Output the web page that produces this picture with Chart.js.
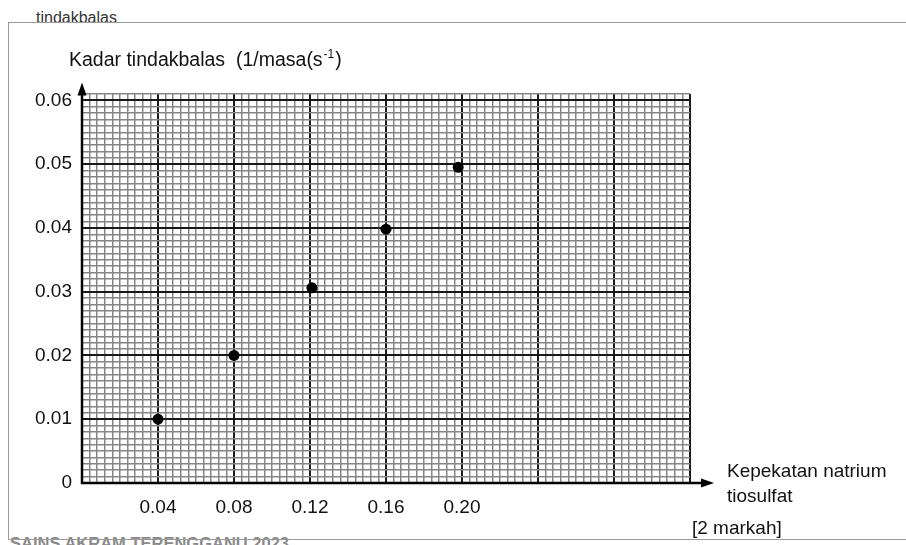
<!DOCTYPE html>
<html>
<head>
<meta charset="utf-8">
<script src="https://cdn.jsdelivr.net/npm/chart.js@4/dist/chart.umd.min.js"></script>
<style>
  html, body { margin: 0; padding: 0; background: #fff; }
  #wrap { position: relative; width: 906px; height: 545px; overflow: hidden; font-family: "Liberation Sans", Arial, sans-serif; }
  #frame { position: absolute; left: 8px; top: 22px; width: 910px; height: 516px; border-left: 1.5px solid #9a9a9a; border-top: 1.5px solid #9a9a9a; border-bottom: 1.5px solid #9a9a9a; }
  #head { position: absolute; left: 36px; top: 0; height: 22px; overflow: hidden; font-size: 16px; color: #333; line-height: 16px; padding-top: 10px; box-sizing: border-box; }
  #foot { position: absolute; left: 10px; top: 535px; font-size: 16.5px; font-weight: bold; color: #8a8a8a; line-height: 16px; white-space: nowrap; }
  canvas { position: absolute; left: 0; top: 0; }
</style>
</head>
<body>
<div id="wrap">
  <div id="head">tindakbalas</div>
  <div id="foot">SAINS AKRAM TERENGGANU 2023</div>
  <div id="frame"></div>
  <canvas id="graph" width="906" height="545"></canvas>
</div>
<script>
(function () {
    'use strict';

    var concentration = [0.04, 0.08, 0.121, 0.16, 0.198];
    var rate = [0.01, 0.02, 0.0306, 0.0398, 0.0495];

    // Tick labels on the major grid lines
    var xTickLabels = ['0.04', '0.08', '0.12', '0.16', '0.20'];
    var yTickLabels = ['0', '0.01', '0.02', '0.03', '0.04', '0.05', '0.06'];

    var yTitle = 'Kadar tindakbalas  (1/masa(s';
    var yTitleSup = '-1';
    var xTitle = ['Kepekatan natrium', 'tiosulfat'];
    var marks = '[2 markah]';

    var FONT = '"Liberation Sans", Arial, sans-serif';
    var xMinor = 0.004, yMinor = 0.001;

    function minorIndex(v, step) { return Math.round(v / step); }

    var points = concentration.map(function (c, i) { return { x: c, y: rate[i] }; });

    /* ─── axes, arrows and titles ─── */
    var decorations = {
        id: 'decorations',
        afterDraw: function (chart) {
            var ctx = chart.ctx;
            var xs = chart.scales.x, ys = chart.scales.y;
            var area = chart.chartArea;
            var x0 = xs.getPixelForValue(0), y0 = ys.getPixelForValue(0);
            var yTop = ys.getPixelForValue(0.06) - 18, xEnd = area.right + 24;

            ctx.save();
            ctx.strokeStyle = '#000';
            ctx.fillStyle = '#000';
            ctx.lineWidth = 2.5;
            ctx.beginPath();
            ctx.moveTo(x0, y0);
            ctx.lineTo(x0, yTop + 10);
            ctx.moveTo(x0 - 1.2, y0);
            ctx.lineTo(xEnd - 10, y0);
            ctx.stroke();

            // arrow heads
            ctx.beginPath();
            ctx.moveTo(x0, yTop);
            ctx.lineTo(x0 - 4.5, yTop + 13);
            ctx.lineTo(x0 + 4.5, yTop + 13);
            ctx.closePath();
            ctx.fill();
            ctx.beginPath();
            ctx.moveTo(xEnd, y0);
            ctx.lineTo(xEnd - 13, y0 - 4.5);
            ctx.lineTo(xEnd - 13, y0 + 4.5);
            ctx.closePath();
            ctx.fill();

            // titles
            ctx.fillStyle = '#111';
            ctx.textBaseline = 'alphabetic';
            ctx.textAlign = 'left';
            ctx.font = '19.5px ' + FONT;
            ctx.fillText(yTitle, 69, 66);
            var w = ctx.measureText(yTitle).width;
            ctx.font = '12px ' + FONT;
            ctx.fillText(yTitleSup, 69 + w + 1, 58);
            var w2 = ctx.measureText(yTitleSup).width;
            ctx.font = '19.5px ' + FONT;
            ctx.fillText(')', 69 + w + w2 + 2, 66);

            ctx.font = '19px ' + FONT;
            ctx.fillText(xTitle[0], area.right + 37, 477);
            ctx.fillText(xTitle[1], area.right + 37, 502);
            ctx.fillText(marks, area.right + 2, 534);
            ctx.restore();
        }
    };

    new Chart(document.getElementById('graph'), {
        type: 'scatter',
        data: {
            datasets: [{
                data: points,
                pointRadius: 5.5,
                pointHoverRadius: 5.5,
                backgroundColor: '#000',
                borderWidth: 0,
                showLine: false,
                clip: false
            }]
        },
        options: {
            responsive: false,
            animation: false,
            layout: { padding: { left: 0, top: 94, right: 216, bottom: 0 } },
            plugins: { legend: { display: false }, tooltip: { enabled: false } },
            events: [],
            scales: {
                x: {
                    type: 'linear',
                    min: 0,
                    max: 0.32,
                    border: { display: false },
                    afterFit: function (s) { s.height = 62; },
                    grid: {
                        drawTicks: false,
                        color: function (c) { return minorIndex(c.tick.value, xMinor) % 10 === 0 ? '#1a1a1a' : '#858585'; },
                        lineWidth: function (c) { return minorIndex(c.tick.value, xMinor) % 10 === 0 ? 2 : 1.5; }
                    },
                    ticks: {
                        stepSize: xMinor,
                        autoSkip: false,
                        maxRotation: 0,
                        minRotation: 0,
                        padding: 13,
                        color: '#111',
                        font: { family: FONT, size: 19 },
                        callback: function (v) {
                            var m = minorIndex(v, xMinor);
                            if (m % 10 !== 0) return '';
                            var k = m / 10;
                            return (k >= 1 && k <= xTickLabels.length) ? xTickLabels[k - 1] : '';
                        }
                    }
                },
                y: {
                    type: 'linear',
                    min: 0,
                    max: 0.061,
                    border: { display: false },
                    afterFit: function (s) { s.width = 82; },
                    grid: {
                        drawTicks: false,
                        color: function (c) { return minorIndex(c.tick.value, yMinor) % 10 === 0 ? '#1a1a1a' : '#858585'; },
                        lineWidth: function (c) { return minorIndex(c.tick.value, yMinor) % 10 === 0 ? 2 : 1.5; }
                    },
                    ticks: {
                        stepSize: yMinor,
                        autoSkip: false,
                        padding: 10,
                        color: '#111',
                        font: { family: FONT, size: 19 },
                        callback: function (v) {
                            var m = minorIndex(v, yMinor);
                            if (m % 10 !== 0) return '';
                            var k = m / 10;
                            return k < yTickLabels.length ? yTickLabels[k] : '';
                        }
                    }
                }
            }
        },
        plugins: [decorations]
    });
})();
</script>
</body>
</html>
